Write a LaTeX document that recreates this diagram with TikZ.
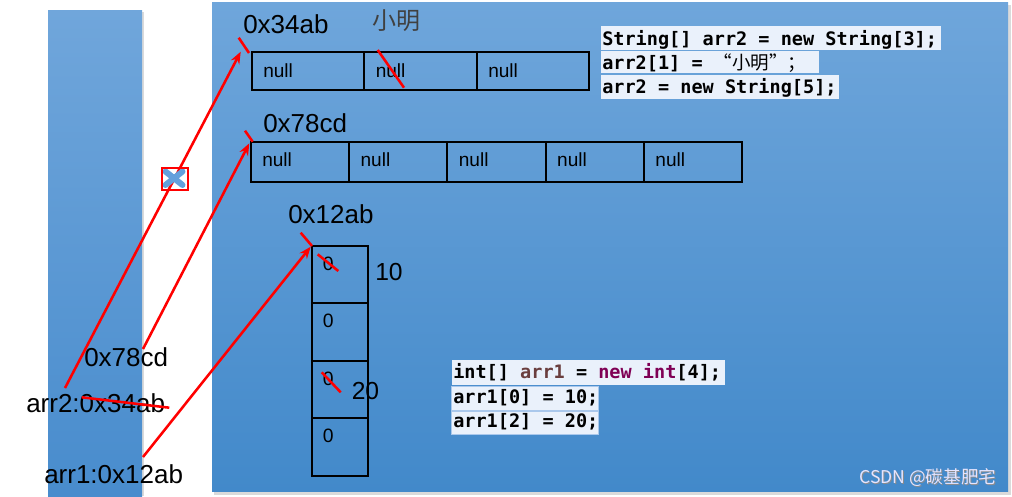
\documentclass[tikz,border=0pt]{standalone}
\usepackage{fontspec}
\setmainfont{Liberation Sans}
\newfontfamily\cjk{Noto Sans CJK SC}
\newfontfamily\codefont{DejaVu Sans Mono}
\usetikzlibrary{arrows.meta}
\definecolor{stktop}{RGB}{112,166,219}
\definecolor{stkbot}{RGB}{72,140,205}
\definecolor{heaptop}{RGB}{111,166,219}
\definecolor{heapbot}{RGB}{66,137,202}
\definecolor{codebg}{RGB}{234,241,251}
\definecolor{codebrd}{RGB}{170,200,236}
\definecolor{kw}{RGB}{127,0,85}
\definecolor{lv}{RGB}{106,62,62}
\definecolor{xblue}{RGB}{100,160,220}
\definecolor{shadowgray}{RGB}{218,218,218}
\tikzset{
  lbl/.style={anchor=base west, inner sep=0pt, font=\fontsize{19.5pt}{22pt}\selectfont},
  celltext/.style={anchor=base west, inner sep=0pt, font=\fontsize{14.3pt}{16pt}\selectfont},
  zerotext/.style={anchor=base west, inner sep=0pt, font=\fontsize{14.5pt}{16pt}\selectfont},
  bignum/.style={anchor=base west, inner sep=0pt, font=\fontsize{18.5pt}{20pt}\selectfont},
  codetext/.style={anchor=base west, inner sep=0pt, font=\codefont\bfseries\fontsize{13.9pt}{16pt}\selectfont},
  cellbox/.style={draw=black, line width=1.5pt, anchor=north west, inner sep=0pt, outer sep=0pt},
  redarrow/.style={draw=red, line width=1.9pt, -{Stealth[length=9pt,width=7pt]}},
  redline/.style={draw=red, line width=1.9pt},
}
\begin{document}
\begin{tikzpicture}[x=0.75pt,y=-0.75pt]
\useasboundingbox (0,0) rectangle (1012,496);
% stack and heap backgrounds
\fill[shadowgray] (49.5,11.5) rectangle (143.5,496);
\shade[top color=stktop, bottom color=stkbot] (48,10) rectangle (142,496);
\fill[shadowgray] (214,5) rectangle (1011,495);
\shade[top color=heaptop, bottom color=heapbot] (212,2) rectangle (1008,491.5);

% arr2 (3 cells)
\foreach \i in {0,1,2} {
  \node[cellbox, minimum width=84.4pt, minimum height=28.1pt] (a\i) at (251.7+112.5*\i,52.3) {};
  \node[celltext] (na\i) at (263+112.5*\i,77) {null};
}
% new arr2 (5 cells)
\foreach \i in {0,1,2,3,4} {
  \node[cellbox, minimum width=73.7pt, minimum height=30pt] (b\i) at (250.7+98.3*\i,141.7) {};
  \node[celltext] (nb\i) at (262+98.3*\i,166) {null};
}
% arr1 (4 cells)
\foreach \i in {0,1,2,3} {
  \node[cellbox, minimum width=42pt, minimum height=43pt] (c\i) at (311.7,246+57.4*\i) {};
  \node[zerotext] (nc\i) at (322.5,270.5+57.4*\i) {0};
}

% heap labels
\node[lbl] (h1) at (243,33) {0x34ab};
\node[lbl] (h2) at (263,132.5) {0x78cd};
\node[lbl] (h3) at (288,223) {0x12ab};
\node[anchor=base west, inner sep=0pt, text=black!75, font=\cjk\fontsize{18pt}{20pt}\selectfont] (xm) at (372,29) {小明};
\node[bignum] (v10) at (375,280.5) {10};
\node[bignum] (v20) at (351.5,399.5) {20};

% stack labels
\node[lbl] (s78) at (84,366.5) {0x78cd};
\node[lbl] (s2) at (26,412) {arr2:0x34ab};
\node[lbl] (s1) at (44,483) {arr1:0x12ab};

% code box 1
\fill[codebg] (601,26) rectangle (940.7,50);
\fill[codebg] (601,50.8) rectangle (819,73.3);
\fill[codebg] (601,75) rectangle (839.3,99);
\node[codetext] (k1) at (602,45) {String[] arr2 = new String[3];};
\node[codetext] (k2) at (602,69.5) {arr2[1] =~{\cjk\mdseries “小明”；}};
\node[codetext] (k3) at (602,93) {arr2 = new String[5];};

% code box 2
\fill[codebg] (451.7,360) rectangle (725,385);
\filldraw[fill=codebg, draw=codebrd, line width=0.6pt] (451.7,386) rectangle (598.3,410);
\filldraw[fill=codebg, draw=codebrd, line width=0.6pt] (451.7,411) rectangle (598.3,434.3);
\node[codetext] (m1) at (453,378.5) {int[] \textcolor{lv}{arr1} = \textcolor{kw}{new} \textcolor{kw}{int}[4];};
\node[codetext] (m2) at (453,403) {arr1[0] = 10;};
\node[codetext] (m3) at (453,427) {arr1[2] = 20;};

% watermark
\node[anchor=base west, inner sep=0pt, text=black!45, font=\cjk\fontsize{13.2pt}{15pt}\selectfont] at (860,484) {CSDN @碳基肥宅};
\node[anchor=base west, inner sep=0pt, text=white!90!blue, font=\cjk\fontsize{13.2pt}{15pt}\selectfont] (wm) at (859,483) {CSDN @碳基肥宅};

% arrows
\coordinate (p2) at (65,388);
\coordinate (t2) at (240.7,51.7);
\coordinate (p78) at (143,349);
\coordinate (t78) at (249.3,143.3);
\coordinate (p1) at (143,457);
\coordinate (t1) at (310.7,246.7);
\draw[redarrow] (p2) -- (t2);
\draw[redarrow] (p78) -- (t78);
\draw[redarrow] (p1) -- (t1);

% small crossed box
\draw[xblue, line width=4.5pt, line cap=round] (165.5,171.5) -- (182.5,185) (182.5,171.5) -- (165.5,185);
\node[draw=red, line width=1.5pt, anchor=north west, inner sep=0pt, minimum width=19.5pt, minimum height=16.5pt] (xbox) at (161,167) {};

% red ticks and strike marks
\draw[redline] (238.7,37.7) -- (249,53);
\draw[redline] (245,130.7) -- (252.7,141.7);
\draw[redline] (300.7,232.7) -- (312,246);
\draw[redline] (377.7,50) -- (404,87.7);
\draw[redline] (317.7,254.3) -- (338.3,271);
\draw[redline] (321.7,372.3) -- (340.7,392.3);
\draw[redline] (81.7,397.3) -- (169.3,407.7);
\end{tikzpicture}
\end{document}
